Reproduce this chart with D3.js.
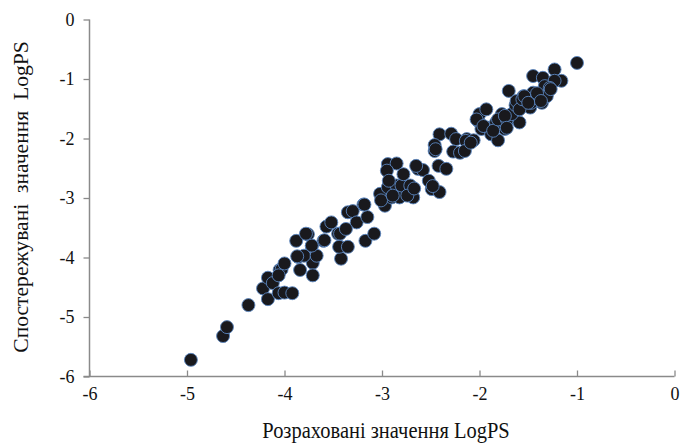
<!DOCTYPE html>
<html><head><meta charset="utf-8">
<script src="https://cdn.jsdelivr.net/npm/d3@7"></script>
<style>body{margin:0;background:#fff}svg{display:block}</style>
</head><body>
<svg id="c" width="680" height="443"></svg>
<script>
const xTicks = [-6,-5,-4,-3,-2,-1,0];
const yTicks = [0,-1,-2,-3,-4,-5,-6];
const xTitle = "Розраховані значення LogPS";
const yTitle = "Спостережувані  значення  LogPS";
const calcX = [
-4.96,-4.63,-4.59,-4.37,-4.22,-4.17,-4.17,-4.12,-4.06,-4.00,-3.92,-4.05,-4.03,-4.06,-4.00,
-3.88,-3.76,-3.86,-3.84,-3.72,-3.71,-3.71,-3.60,-3.57,-3.45,-3.43,-3.42,-3.80,-3.87,-3.67,
-3.78,-3.72,-3.59,-3.52,-3.43,-3.44,-3.35,-3.35,-3.30,-3.19,-3.26,-3.15,-3.37,-3.17,-3.08,
-3.02,-2.97,-2.94,-2.85,-2.90,-2.82,-3.18,-3.01,-2.94,-2.85,-2.95,-2.80,-2.78,-2.71,-2.63,
-2.58,-2.68,-2.52,-2.49,-2.41,-2.42,-2.34,-2.41,-2.46,-2.46,-2.29,-2.24,-2.27,-2.20,-2.13,
-2.93,-2.89,-2.74,-2.67,-2.65,-2.48,-2.45,
-2.14,-2.15,-2.06,-2.01,-2.00,-1.98,-1.93,-1.91,-1.88,-1.81,-1.83,-1.77,-1.74,-1.70,-1.65,
-1.60,-1.59,-1.52,-1.48,-1.43,-2.09,-2.03,-1.96,-1.86,-1.81,-1.72,-1.67,-1.63,
-1.00,-1.23,-1.45,-1.35,-1.16,-1.23,-1.33,-1.28,-1.55,-1.45,-1.36,-1.47,-1.31,-1.62,-1.59,
-1.74,-1.72,-1.56,-1.54,-1.50,-1.41,-1.37,-1.27
];
const obsY = [
-5.72,-5.32,-5.17,-4.80,-4.52,-4.70,-4.34,-4.43,-4.60,-4.59,-4.60,-4.21,-4.20,-4.30,-4.10,
-3.72,-3.61,-3.99,-4.21,-3.81,-4.09,-4.30,-3.72,-3.48,-3.60,-3.82,-4.02,-3.97,-3.98,-3.97,
-3.60,-3.80,-3.71,-3.41,-3.60,-3.82,-3.82,-3.24,-3.22,-3.11,-3.41,-3.32,-3.52,-3.72,-3.60,
-2.93,-3.13,-2.82,-2.79,-2.99,-2.99,-3.11,-3.04,-2.43,-2.42,-2.54,-2.79,-2.60,-2.79,-2.51,
-2.53,-2.99,-2.71,-2.85,-2.90,-2.46,-2.51,-1.93,-2.11,-2.21,-1.92,-2.01,-2.22,-2.24,-2.01,
-2.71,-2.96,-2.96,-2.84,-2.46,-2.80,-2.18,
-2.04,-2.21,-2.03,-1.71,-1.59,-1.84,-1.51,-1.82,-1.93,-2.03,-1.73,-1.59,-1.84,-1.20,-1.65,
-1.51,-1.73,-1.34,-1.48,-1.29,-2.07,-1.68,-1.79,-1.87,-1.68,-1.68,-1.59,-1.44,
-0.73,-0.84,-0.95,-0.98,-1.03,-1.03,-1.12,-1.15,-1.29,-1.23,-1.40,-1.40,-1.29,-1.37,-1.51,
-1.62,-1.82,-1.34,-1.29,-1.40,-1.24,-1.37,-1.17
];
const pts = calcX.map((x,i)=>({x, y: obsY[i]}));

const svg = d3.select("#c");
const x = d3.scaleLinear().domain([-6,0]).range([89.5,674.5]);
const y = d3.scaleLinear().domain([-6,0]).range([376.5,19.5]);
const axisColor = "#8a8a8a";
const font = "Liberation Serif";
const fmt = d => String(d);

// points
svg.append("g").selectAll("circle").data(pts).join("circle")
  .attr("cx", d=>x(d.x)).attr("cy", d=>y(d.y)).attr("r", 6.5)
  .attr("fill", "#19191d").attr("stroke", "#5a86c0").attr("stroke-width", 0.9);

// x axis (ticks upward)
const gx = svg.append("g").attr("transform", `translate(0,${y(-6)})`)
  .call(d3.axisBottom(x).tickValues(xTicks).tickSize(-6).tickPadding(11).tickFormat(fmt));
gx.attr("font-family", font).attr("font-size", 18);
gx.select(".domain").attr("stroke", axisColor).attr("stroke-width", 1.5).attr("d", `M${x(-6)-6},0H${x(0)}`);
gx.selectAll(".tick line").attr("stroke", axisColor).attr("stroke-width", 1.3);
gx.selectAll(".tick text").attr("fill", "#111");

// y axis (ticks left)
const gy = svg.append("g").attr("transform", `translate(${x(-6)},0)`)
  .call(d3.axisLeft(y).tickValues(yTicks).tickSize(6).tickPadding(9).tickFormat(fmt));
gy.attr("font-family", font).attr("font-size", 18);
gy.select(".domain").attr("stroke", axisColor).attr("stroke-width", 1.5).attr("d", `M0,${y(0)}V${y(-6)}`);
gy.selectAll(".tick line").attr("stroke", axisColor).attr("stroke-width", 1.3);
gy.selectAll(".tick text").attr("fill", "#111");

// titles
svg.append("text").attr("transform", "translate(386,438) scale(1,1.12)").attr("text-anchor", "middle")
  .attr("font-family", font).attr("font-size", 20.5).attr("fill", "#111").text(xTitle);
svg.append("text").attr("transform", "translate(28,197) rotate(-90) scale(1.08,1)").attr("text-anchor", "middle")
  .attr("font-family", font).attr("font-size", 20).attr("fill", "#111")
  .style("white-space","pre").text(yTitle);
</script>
</body></html>
